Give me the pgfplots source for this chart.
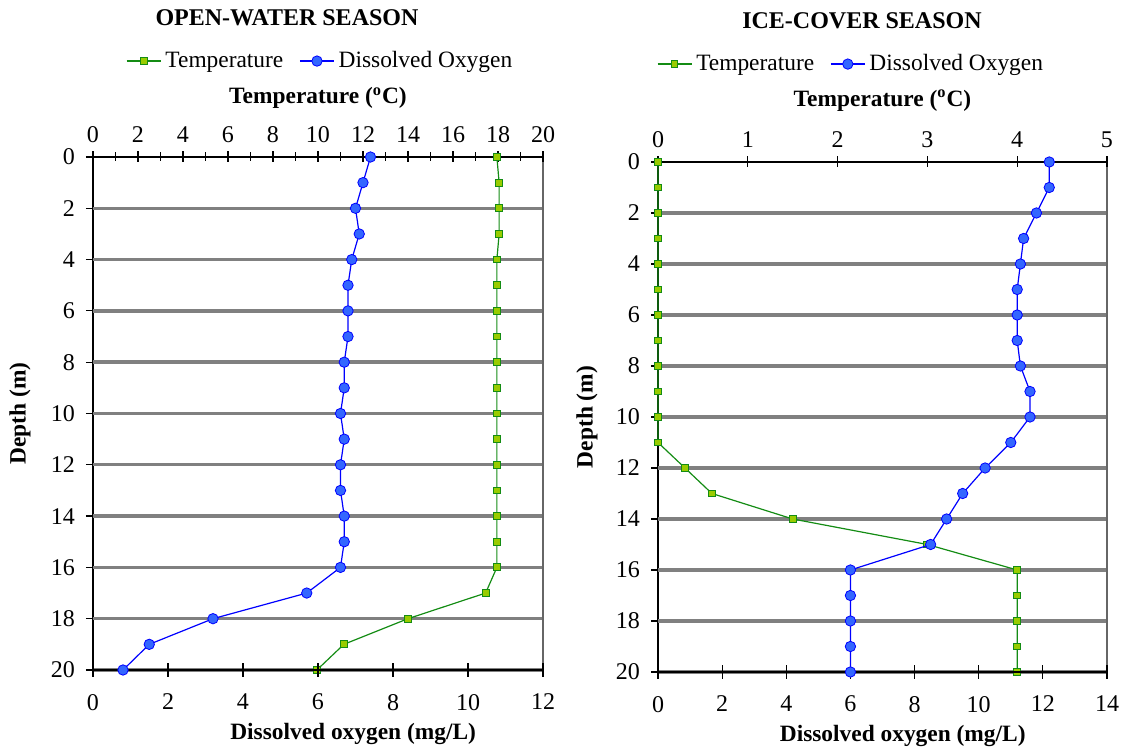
\documentclass[border=0pt]{standalone}
\usepackage{fontspec}
\setmainfont{Liberation Serif}
\usepackage{pgfplots}
\pgfplotsset{compat=1.18}

\definecolor{tgreen}{RGB}{20,140,20}
\definecolor{tfill}{RGB}{153,204,0}
\definecolor{dblue}{RGB}{0,0,255}
\definecolor{dfill}{RGB}{51,102,255}

\pgfplotsset{
 tempstyle/.style={tgreen, line width=0.6pt, mark=square*, mark size=1.7pt, mark options={fill=tfill, draw=tgreen, line width=0.5pt, solid}},
 dostyle/.style={dblue, line width=0.6pt, mark=*, mark size=2.6pt, mark options={fill=dfill, draw=dblue, line width=0.4pt, solid}},
 base/.style={scale only axis, y dir=reverse, ymin=0, ymax=20,
   ticklabel style={font=\fontsize{12}{14}\selectfont},
   /pgf/number format/assume math mode=true,
   label style={font=\bfseries\fontsize{11.7}{13}\selectfont},
   tick style={black, line width=0.6pt},
   axis line style={black, line width=0.8pt},
   clip=false},
 gridaxis/.style={base, axis y line*=left, hide x axis, xmin=0, xmax=1,
   ytick={0,2,...,20}, ytick align=outside, major tick length=3.5pt,
   yticklabel style={xshift=-2pt},
   extra y ticks={2,4,...,20}, extra y tick labels={},
   extra y tick style={grid=major, major tick length=0pt},
   major grid style={line width=1.7pt, black!50},
   ylabel={Depth (m)}},
 tempaxis/.style={base, axis x line*=top, hide y axis, xtick align=center,
   major tick length=5.5pt, minor tick length=4.5pt,
   xticklabel style={yshift=0.8pt},
   xlabel={Temperature (\textsuperscript{o}C)}},
 doaxis/.style={base, axis x line*=bottom, hide y axis, xtick align=center,
   major tick length=7pt, xmin=0,
   xticklabel style={yshift=-5pt},
   xlabel={Dissolved oxygen (mg/L)},
   legend columns=2,
   legend style={draw=none, fill=none, font=\fontsize{11.7}{13}\selectfont, anchor=center,
     /tikz/every even column/.append style={column sep=6pt}}},
}

\begin{document}
\begin{tikzpicture}
\path[use as bounding box] (0,0) rectangle (560.5pt,373.5pt);

% ---------------- Left panel -----------------
\begin{axis}[gridaxis, at={(46.5pt,38.5pt)}, anchor=south west, width=225pt, height=256.5pt,
  ylabel style={at={(axis description cs:-0.162,0.5)}, anchor=center}]
  \draw[black!60, line width=0.8pt] (rel axis cs:1,0) -- (rel axis cs:1,1);
\end{axis}
\begin{axis}[tempaxis, at={(46.5pt,38.5pt)}, anchor=south west, width=225pt, height=256.5pt,
  xmin=0, xmax=20, xtick={0,2,...,20}, minor x tick num=1,
  xlabel style={at={(axis description cs:0.5,1.115)}, anchor=center}]
  \addplot[tempstyle] coordinates {
   (17.95,0) (18.05,1) (18.05,2) (18.05,3) (17.95,4) (17.95,5) (17.95,6) (17.95,7)
   (17.95,8) (17.95,9) (17.95,10) (17.95,11) (17.95,12) (17.95,13) (17.95,14)
   (17.95,15) (17.95,16) (17.45,17) (14.0,18) (11.15,19) (9.95,20)};
\end{axis}
\begin{axis}[doaxis, at={(46.5pt,38.5pt)}, anchor=south west, width=225pt, height=256.5pt,
  xmax=12, xtick={0,2,...,12},
  xlabel style={at={(axis description cs:0.578,-0.125)}, anchor=center},
  legend style={at={(axis description cs:0.507,1.187)}}]
  \addlegendimage{tempstyle}
  \addlegendentry{Temperature}
  \addplot[dostyle] coordinates {
   (7.4,0) (7.2,1) (7.0,2) (7.1,3) (6.9,4) (6.8,5) (6.8,6) (6.8,7) (6.7,8) (6.7,9)
   (6.6,10) (6.7,11) (6.6,12) (6.6,13) (6.7,14) (6.7,15) (6.6,16) (5.7,17) (3.2,18)
   (1.5,19) (0.8,20)};
  \addlegendentry{Dissolved Oxygen}
\end{axis}
\node[font=\bfseries\fontsize{12}{14}\selectfont] at (143.5pt,364.5pt) {OPEN-WATER SEASON};

% ---------------- Right panel -----------------
\begin{axis}[gridaxis, at={(329pt,37.5pt)}, anchor=south west, width=224.5pt, height=255pt,
  ylabel style={at={(axis description cs:-0.158,0.5)}, anchor=center}]
  \draw[black!60, line width=0.8pt] (rel axis cs:1,0) -- (rel axis cs:1,1);
\end{axis}
\begin{axis}[tempaxis, at={(329pt,37.5pt)}, anchor=south west, width=224.5pt, height=255pt,
  xmin=0, xmax=5, xtick={0,1,...,5},
  xlabel style={at={(axis description cs:0.5,1.121)}, anchor=center}]
  \addplot[tempstyle] coordinates {
   (0,0) (0,1) (0,2) (0,3) (0,4) (0,5) (0,6) (0,7) (0,8) (0,9) (0,10) (0,11)
   (0.3,12) (0.6,13) (1.5,14) (3.0,15) (4.0,16) (4.0,17) (4.0,18) (4.0,19) (4.0,20)};
\end{axis}
\begin{axis}[doaxis, at={(329pt,37.5pt)}, anchor=south west, width=224.5pt, height=255pt,
  xmax=14, xtick={0,2,...,14},
  xlabel style={at={(axis description cs:0.545,-0.126)}, anchor=center},
  legend style={at={(axis description cs:0.432,1.192)}}]
  \addlegendimage{tempstyle}
  \addlegendentry{Temperature}
  \addplot[dostyle] coordinates {
   (12.2,0) (12.2,1) (11.8,2) (11.4,3) (11.3,4) (11.2,5) (11.2,6) (11.2,7) (11.3,8)
   (11.6,9) (11.6,10) (11.0,11) (10.2,12) (9.5,13) (9.0,14) (8.5,15) (6.0,16)
   (6.0,17) (6.0,18) (6.0,19) (6.0,20)};
  \addlegendentry{Dissolved Oxygen}
\end{axis}
\node[font=\bfseries\fontsize{12}{14}\selectfont] at (431pt,363pt) {ICE-COVER SEASON};
\end{tikzpicture}
\end{document}
